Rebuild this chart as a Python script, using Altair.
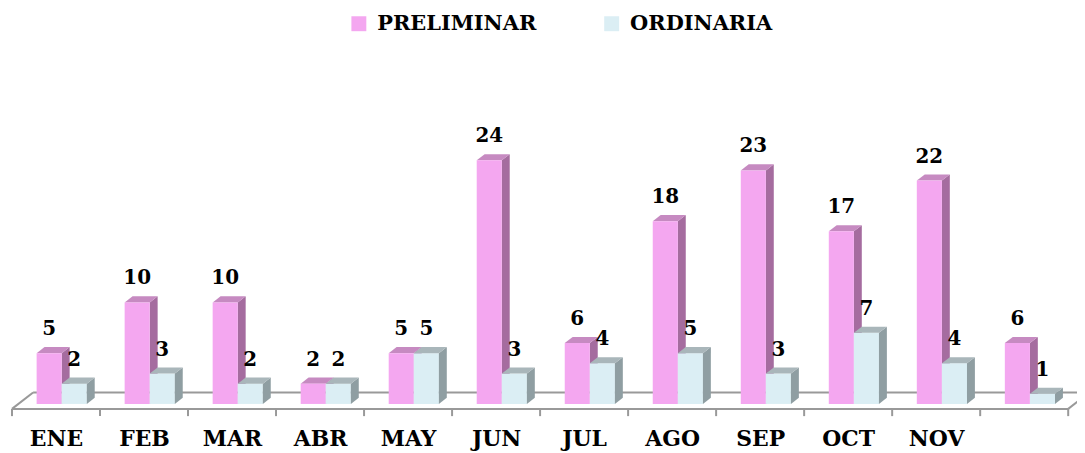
import altair as alt
import pandas as pd

# ---- data ----
months = ["ENE", "FEB", "MAR", "ABR", "MAY", "JUN", "JUL", "AGO", "SEP", "OCT", "NOV", ""]
preliminar = [5, 10, 10, 2, 5, 24, 6, 18, 23, 17, 22, 6]
ordinaria = [2, 3, 2, 2, 5, 3, 4, 5, 3, 7, 4, 1]
series_names = ["PRELIMINAR", "ORDINARIA"]
front_colors = ["#F4A7F0", "#DBEEF4"]
side_colors = ["#A56C9F", "#8F9EA2"]
top_colors = ["#C68AC1", "#A9B6BA"]

FONT = "DejaVu Serif"

# ---- layout constants (data units) ----
LEFT_GAP = 0.28   # gap from category start to first bar
BAR_W = 0.285     # width of one bar front face
DX = 0.09         # 3D depth along x
DV = 0.6          # 3D depth along y
FLOOR_FRONT = -0.49
FLOOR_BACK = 1.13
FLOOR_DX = 0.24
TICK_BOTTOM = -1.2
N = len(months)

fronts, faces, labels = [], [], []
for s, vals in enumerate([preliminar, ordinaria]):
    for i, v in enumerate(vals):
        xl = i + LEFT_GAP + s * BAR_W
        xr = xl + BAR_W
        fronts.append({"series": series_names[s], "x": xl, "x2": xr, "y": 0, "y2": v, "order": s})
        labels.append({"x": (xl + xr) / 2, "v": v, "t": str(v)})
        g = f"{s}-{i}"
        # side face
        faces += [
            {"g": g + "s", "s": s, "x": xr, "y": v, "y2": 0, "fc": side_colors[s]},
            {"g": g + "s", "s": s, "x": xr + DX, "y": v + DV, "y2": DV, "fc": side_colors[s]},
        ]
        # top face
        faces += [
            {"g": g + "t", "s": s, "x": xl, "y": v, "y2": v, "fc": top_colors[s]},
            {"g": g + "t", "s": s, "x": xl + DX, "y": v + DV, "y2": v, "fc": top_colors[s]},
            {"g": g + "t", "s": s, "x": xr, "y": v + DV, "y2": v, "fc": top_colors[s]},
            {"g": g + "t", "s": s, "x": xr + DX, "y": v + DV, "y2": v + DV, "fc": top_colors[s]},
        ]

floor = [
    {"x": 0, "x2": N, "y": FLOOR_FRONT, "y2": FLOOR_FRONT},
    {"x": FLOOR_DX, "x2": N + FLOOR_DX, "y": FLOOR_BACK, "y2": FLOOR_BACK},
    {"x": 0, "x2": FLOOR_DX, "y": FLOOR_FRONT, "y2": FLOOR_BACK},
    {"x": N, "x2": N + FLOOR_DX, "y": FLOOR_FRONT, "y2": FLOOR_BACK},
]
for i in range(N + 1):
    floor.append({"x": i, "x2": i, "y": FLOOR_FRONT, "y2": TICK_BOTTOM})

df_front = pd.DataFrame(fronts)
df_faces = pd.DataFrame(faces)
df_labels = pd.DataFrame(labels)
df_floor = pd.DataFrame(floor)

PX_X = 88.42
PX_Y = 10.2
XMAX = 12.1
YMIN, YMAX = -1.3, 33.5
W = round(XMAX * PX_X)
H = round((YMAX - YMIN) * PX_Y)

label_expr = "[" + ",".join(f"'{m}'" for m in months) + "][floor(datum.value)]"

xscale = alt.Scale(domain=[0, XMAX], nice=False, zero=False)
yscale = alt.Scale(domain=[YMIN, YMAX], nice=False, zero=False)

x_axis = alt.Axis(
    values=[i + 0.5 for i in range(N)], labelExpr=label_expr, domain=False, ticks=False,
    tickSize=0, grid=False, title=None, labelAngle=0, labelFont=FONT, labelFontSize=22,
    labelFontWeight="bold", labelColor="black", labelBaseline="alphabetic", labelPadding=28,
    labelOverlap=False, labelFlush=False,
)

floor_layer = alt.Chart(df_floor).mark_rule(color="#999999", strokeWidth=2).encode(
    x=alt.X("x:Q", scale=xscale, axis=x_axis),
    x2="x2:Q",
    y=alt.Y("y:Q", scale=yscale, axis=None),
    y2="y2:Q",
)

def face_layer(s):
    return alt.Chart(df_faces[df_faces.s == s]).mark_area(orient="vertical", strokeWidth=0).encode(
        x=alt.X("x:Q", scale=xscale),
        y=alt.Y("y:Q", scale=yscale, stack=None),
        y2="y2:Q",
        detail="g:N",
        fill=alt.Fill("fc:N", scale=None),
    )

front_layer = alt.Chart(df_front).mark_rect(strokeWidth=0).encode(
    x=alt.X("x:Q", scale=xscale),
    x2="x2:Q",
    y=alt.Y("y:Q", scale=yscale),
    y2="y2:Q",
    color=alt.Color(
        "series:N",
        scale=alt.Scale(domain=series_names, range=front_colors),
        legend=alt.Legend(
            title=None, orient="none", legendX=338, legendY=-51, direction="horizontal",
            symbolType="square", symbolSize=225, symbolStrokeWidth=0, symbolOpacity=1,
            labelFont=FONT, labelFontSize=21, labelFontWeight="bold", labelColor="black",
            labelOffset=8, columnPadding=65, labelLimit=400,
        ),
    ),
)

text_layer = alt.Chart(df_labels).mark_text(
    font=FONT, fontSize=20, fontWeight="bold", color="black", baseline="alphabetic", dy=-18
).encode(
    x=alt.X("x:Q", scale=xscale),
    y=alt.Y("v:Q", scale=yscale),
    text="t:N",
)

chart = alt.layer(
    floor_layer, face_layer(0), front_layer, face_layer(1), text_layer
).properties(
    width=W, height=H,
    autosize=alt.AutoSizeParams(type="none"),
    padding={"left": 4, "top": 55, "right": 0, "bottom": 38},
).configure(background="white").configure_view(stroke=None, strokeWidth=0)

chart.save("out.html", embed_options={"renderer": "svg", "actions": False})
